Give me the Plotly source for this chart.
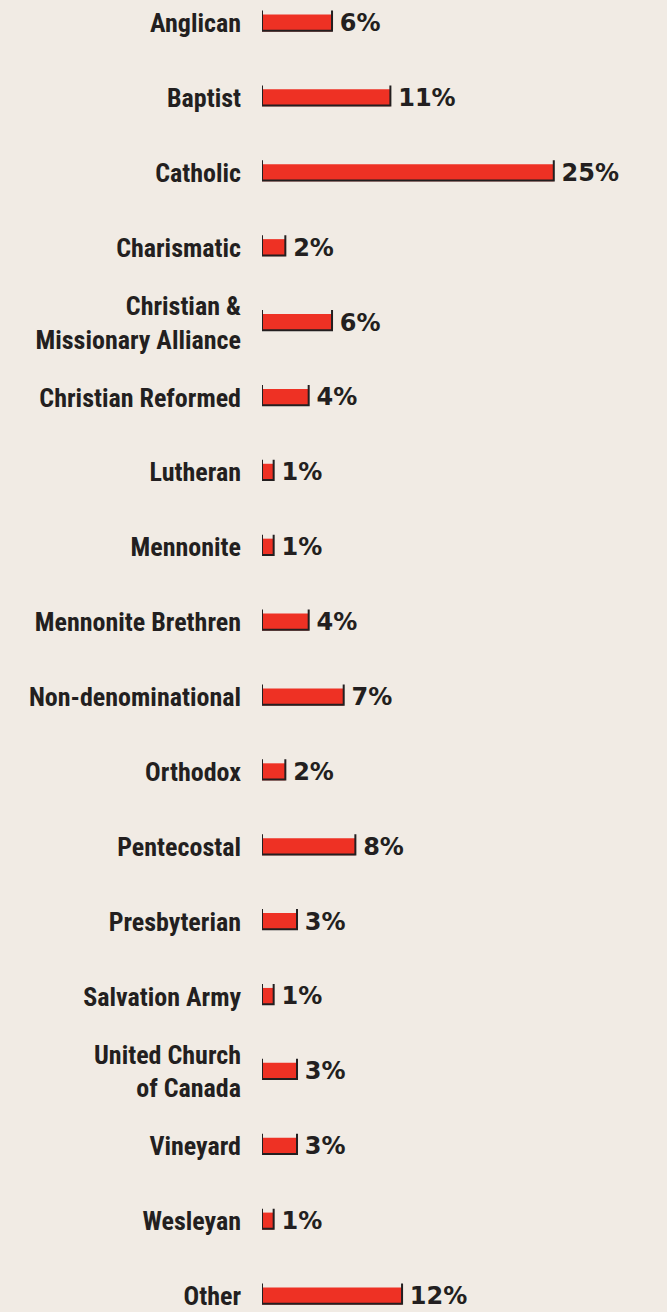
import plotly.graph_objects as go

# Denomination shares (percent)
denominations = [
    "Anglican", "Baptist", "Catholic", "Charismatic",
    "Christian &<br>Missionary Alliance", "Christian Reformed", "Lutheran",
    "Mennonite", "Mennonite Brethren", "Non-denominational", "Orthodox",
    "Pentecostal", "Presbyterian", "Salvation Army",
    "United Church<br>of Canada", "Vineyard", "Wesleyan", "Other",
]
shares = [6, 11, 25, 2, 6, 4, 1, 1, 4, 7, 2, 8, 3, 1, 3, 3, 1, 12]
share_labels = [f"\u2009{v}%" for v in shares]

BG = "#f1ebe4"
RED = "#ee3124"
INK = "#231f20"

rows = list(range(len(denominations)))
bar_w = 0.227

# U-shaped outline (sides + bottom) drawn around each bar
ox, oy = [], []
for i, v in zip(rows, shares):
    top = i - bar_w / 2 - 0.053
    bot = i + bar_w / 2 - 0.01
    ox += [0, 0, v, v, None]
    oy += [top, bot, bot, top, None]

fig = go.Figure()
fig.add_trace(go.Bar(
    x=shares, y=rows, orientation="h", width=bar_w,
    marker=dict(color=RED, line=dict(width=0)),
    text=share_labels, textposition="outside", cliponaxis=False,
    constraintext="none",
    textfont=dict(family="DejaVu Sans", size=24, color=INK, weight="bold"),
    hoverinfo="skip",
))
fig.add_trace(go.Scatter(
    x=ox, y=oy, mode="lines", line=dict(color=INK, width=2),
    hoverinfo="skip", cliponaxis=False,
))

fig.update_layout(
    width=667, height=1312,
    paper_bgcolor=BG, plot_bgcolor=BG,
    margin=dict(l=262, r=0, t=0, b=0),
    showlegend=False,
    xaxis=dict(range=[0, 34.7], visible=False, fixedrange=True),
    yaxis=dict(
        range=[17.214, -0.307], tickmode="array", tickvals=rows,
        ticktext=denominations, showgrid=False, zeroline=False,
        ticklabelstandoff=20, fixedrange=True,
        tickfont=dict(family="Roboto Condensed, Roboto", size=26, color=INK, weight="bold"),
    ),
)

fig.write_html("out.html", config={"displayModeBar": False},
               post_script="document.body.style.margin='0';")
